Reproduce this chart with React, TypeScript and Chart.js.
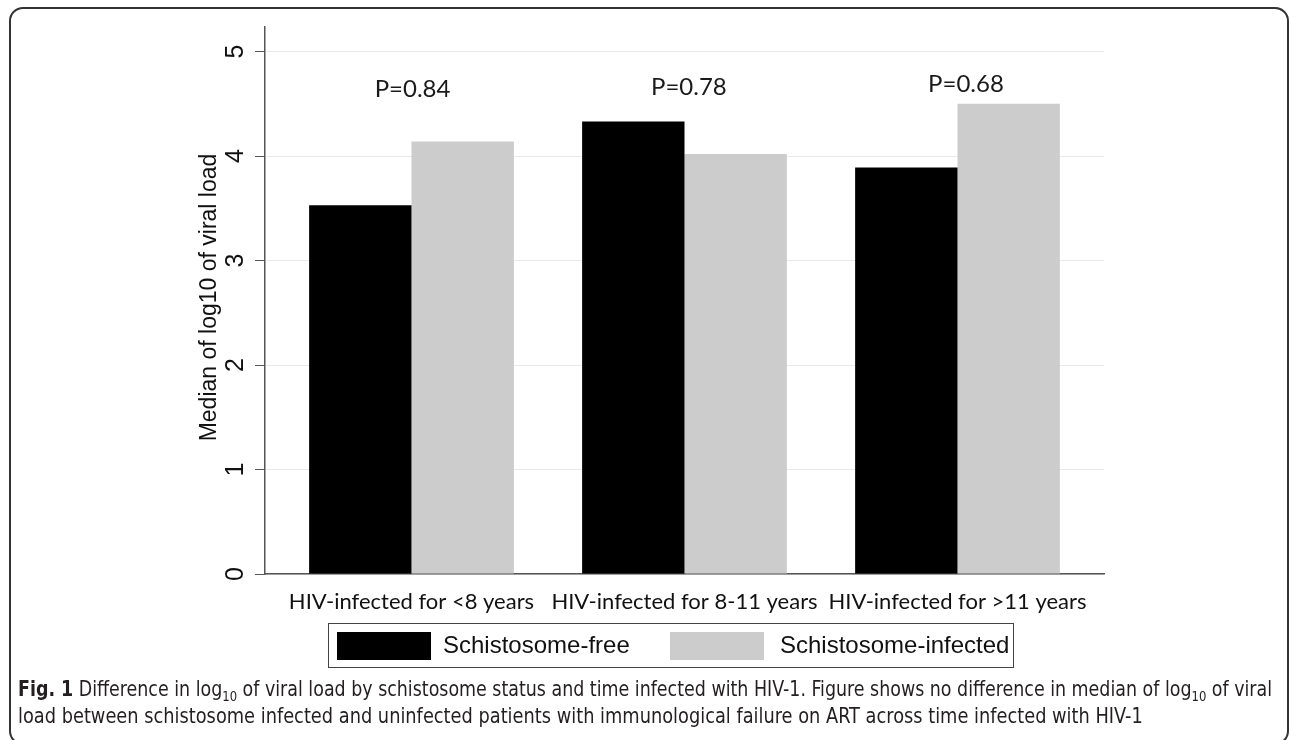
import React, { useEffect, useLayoutEffect, useRef } from 'react';
import { Chart, registerables } from 'chart.js';

Chart.register(...registerables);

const categories = ['HIV-infected for <8 years', 'HIV-infected for 8-11 years', 'HIV-infected for >11 years'];
const seriesNames = ['Schistosome-free', 'Schistosome-infected'];
const freeValues = [3.53, 4.33, 3.89];
const infectedValues = [4.14, 4.02, 4.5];
const seriesColors = ['#000000', '#cccccc'];
const yTickValues = [0, 1, 2, 3, 4, 5];
const pLabels = ['P=0.84', 'P=0.78', 'P=0.68'];
const pLabelX = [0.004, 1.016, 2.031];
const pLabelY = [4.64, 4.66, 4.69];
const yTitle = 'Median of log10 of viral load';

const SANS = '"Liberation Sans", Arial, sans-serif';
const CAL = 'Lato, "Open Sans", sans-serif';

const overlayPlugin = {
  id: 'overlay',
  afterDraw(chart: any) {
    const ctx = chart.ctx as CanvasRenderingContext2D;
    const ys = chart.scales.y;
    const xs = chart.scales.x;
    const area = chart.chartArea;
    ctx.save();
    ctx.fillStyle = '#111';
    ctx.textAlign = 'center';
    ctx.textBaseline = 'middle';
    ctx.font = `25px ${SANS}`;
    ys.ticks.forEach((t: any) => {
      const py = ys.getPixelForValue(t.value);
      ctx.save();
      ctx.translate(ys.right - 28.5, py);
      ctx.rotate(-Math.PI / 2);
      ctx.fillText(String(t.value), 0, 0);
      ctx.restore();
    });
    ctx.font = `23px ${SANS}`;
    ctx.save();
    ctx.translate(ys.right - 55, (area.top + area.bottom) / 2 - 3);
    ctx.rotate(-Math.PI / 2);
    ctx.fillText(yTitle, 0, 0);
    ctx.restore();
    ctx.font = `24px ${CAL}`;
    ctx.fillStyle = '#1a1a1a';
    pLabels.forEach((l, i) => {
      ctx.fillText(l, xs.getPixelForValue(pLabelX[i]), ys.getPixelForValue(pLabelY[i]));
    });
    const bx = 328.5, by = 623.5, bw = 685, bh = 44;
    ctx.strokeStyle = '#444';
    ctx.lineWidth = 1;
    ctx.strokeRect(bx, by, bw, bh);
    const items = chart.data.datasets;
    const swX = [337, 670];
    const txX = [443, 780];
    ctx.font = `24px ${SANS}`;
    ctx.textAlign = 'left';
    items.forEach((ds: any, i: number) => {
      ctx.fillStyle = ds.backgroundColor;
      ctx.fillRect(swX[i], 632, 94, 28);
      ctx.fillStyle = '#111';
      ctx.fillText(ds.label, txX[i], 646);
    });
    ctx.restore();
  },
};

function ChartView() {
  const ref = useRef<HTMLCanvasElement | null>(null);
  useEffect(() => {
    if (!ref.current) return;
    const chart = new Chart(ref.current, {
      type: 'bar',
      data: {
        datasets: [
          {
            label: seriesNames[0],
            data: freeValues.map((v, i) => ({ x: i, y: v })),
            backgroundColor: seriesColors[0],
            borderWidth: 0,
          },
          {
            label: seriesNames[1],
            data: infectedValues.map((v, i) => ({ x: i, y: v })),
            backgroundColor: seriesColors[1],
            borderWidth: 0,
          },
        ],
      },
      options: {
        animation: false,
        responsive: false,
        maintainAspectRatio: false,
        events: [],
        layout: { padding: { left: 0, right: 186, top: 27, bottom: 116 } },
        datasets: { bar: { categoryPercentage: 0.75, barPercentage: 1.0 } },
        plugins: { legend: { display: false }, tooltip: { enabled: false }, title: { display: false } },
        scales: {
          x: {
            type: 'linear',
            min: -0.5366,
            max: 2.5366,
            offset: false,
            afterBuildTicks: (scale: any) => {
              scale.ticks = categories.map((_, i) => ({ value: i }));
            },
            afterFit: (scale: any) => {
              scale.height = 50;
            },
            grid: { display: false, drawTicks: false },
            border: { display: true, color: '#555', width: 1.5 },
            ticks: {
              autoSkip: false,
              maxRotation: 0,
              minRotation: 0,
              padding: 15,
              color: '#111',
              font: { family: CAL, size: 22 },
              callback: (v: any) => categories[Math.round(Number(v))] ?? '',
            },
          },
          y: {
            type: 'linear',
            min: 0,
            max: 5.235,
            afterBuildTicks: (scale: any) => {
              scale.ticks = yTickValues.map((v) => ({ value: v }));
            },
            afterFit: (scale: any) => {
              scale.width = 265;
            },
            grid: { color: '#e9e9e9', lineWidth: 1, tickLength: 10, tickColor: '#555', drawTicks: true },
            border: { display: true, color: '#555', width: 1.5 },
            ticks: { display: false, stepSize: 1, includeBounds: false },
          },
        },
      } as any,
      plugins: [overlayPlugin],
    });
    return () => chart.destroy();
  }, []);
  return <canvas ref={ref} width={1290} height={740} style={{ position: 'absolute', left: 0, top: 0, width: 1290, height: 740 }} />;
}

function Caption() {
  const l1 = useRef<HTMLSpanElement | null>(null);
  const l2 = useRef<HTMLSpanElement | null>(null);
  useLayoutEffect(() => {
    if (!l1.current || !l2.current) return;
    const s1 = 1254 / l1.current.scrollWidth;
    const s2 = 1125 / l2.current.scrollWidth;
    l1.current.style.transform = `scaleX(${s1})`;
    l2.current.style.transform = `scaleX(${s2})`;
  }, []);
  const sub = { fontSize: 14, lineHeight: 0 } as React.CSSProperties;
  const line = { display: 'inline-block', transformOrigin: '0 0', whiteSpace: 'nowrap' } as React.CSSProperties;
  return (
    <div
      style={{
        position: 'absolute',
        left: 18,
        top: 676,
        fontFamily: '"Liberation Sans Narrow", "DejaVu Sans Condensed", "Liberation Sans", sans-serif',
        fontSize: 21,
        lineHeight: '27px',
        color: '#231f20',
        whiteSpace: 'nowrap',
      }}
    >
      <span ref={l1} style={line}>
        <b>Fig. 1</b> Difference in log<sub style={sub}>10</sub> of viral load by schistosome status and time infected with HIV-1. Figure shows no difference in median of log<sub style={sub}>10</sub> of viral
      </span>
      <br />
      <span ref={l2} style={line}>
        load between schistosome infected and uninfected patients with immunological failure on ART across time infected with HIV-1
      </span>
    </div>
  );
}

export default function App() {
  return (
    <div style={{ position: 'absolute', left: 0, top: 0, width: 1290, height: 740, overflow: 'hidden', background: '#fff' }}>
      <ChartView />
      <div
        style={{
          position: 'absolute',
          left: 9,
          top: 7,
          width: 1280,
          height: 738,
          border: '2px solid #333',
          borderRadius: 14,
          boxSizing: 'border-box',
          pointerEvents: 'none',
        }}
      />
      <Caption />
    </div>
  );
}
